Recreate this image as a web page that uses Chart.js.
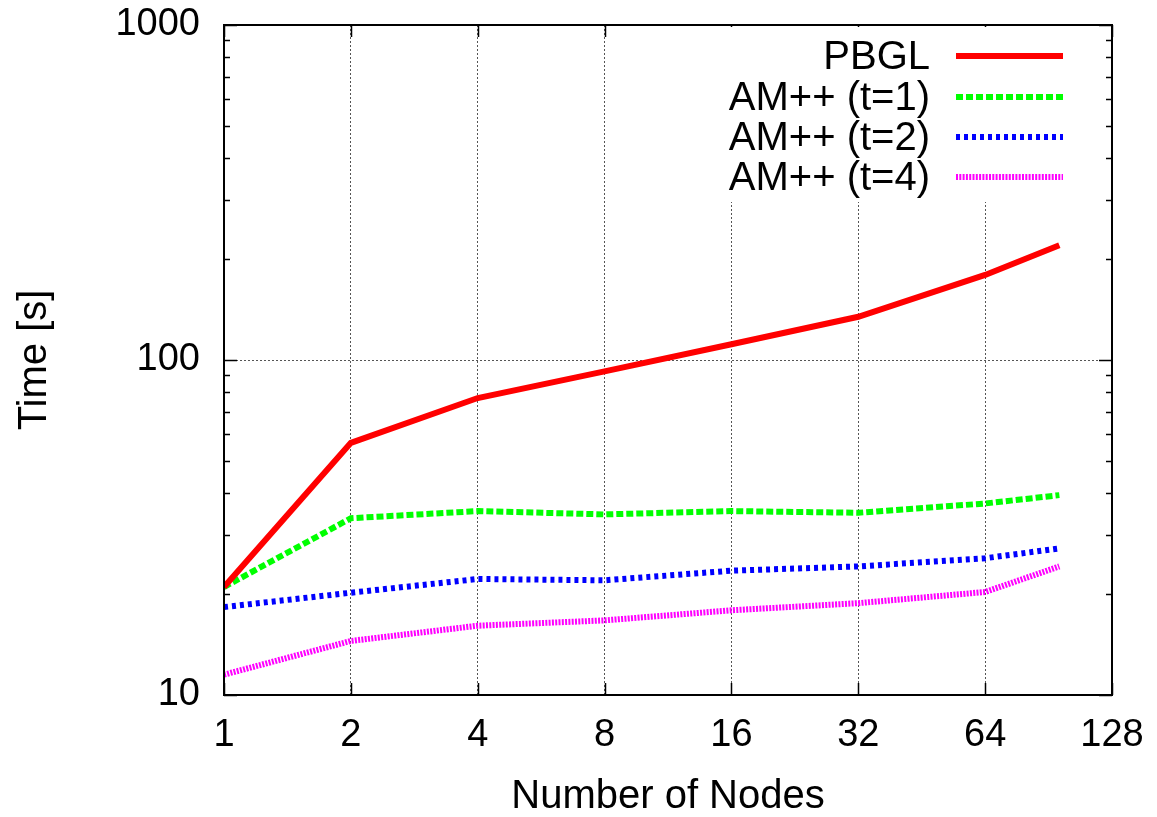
<!DOCTYPE html>
<html>
<head>
<meta charset="utf-8">
<script src="https://cdn.jsdelivr.net/npm/chart.js@4/dist/chart.umd.min.js"></script>
<style>
  html, body { margin: 0; padding: 0; background: #fff; }
  #wrap { width: 1157px; height: 817px; }
</style>
</head>
<body>
<div id="wrap"><canvas id="chart"></canvas></div>
<script>
// data
const nodes = [1, 2, 4, 8, 16, 32, 64, 96];
const pbgl = [21.0, 56.6, 77.0, 92.5, 111.4, 134.6, 179.4, 220];
const amT1 = [21.0, 33.7, 35.4, 34.6, 35.4, 35.0, 37.3, 39.5];
const amT2 = [18.3, 20.2, 22.2, 22.0, 23.5, 24.2, 25.6, 27.4];
const amT4 = [11.5, 14.5, 16.1, 16.7, 17.9, 18.8, 20.3, 24.2];

const xTicks = [1, 2, 4, 8, 16, 32, 64, 128];
const yTicks = [10, 20, 30, 40, 50, 60, 70, 80, 90, 100, 200, 300, 400, 500, 600, 700, 800, 900, 1000];
const yLabels = [10, 100, 1000];

const FONT = "'Liberation Sans', Arial, sans-serif";

function points(ys) {
    return nodes.map((x, i) => ({ x: x, y: ys[i] }));
}

// frame, inward ticks and the legend box, gnuplot style
const framePlugin = {
    id: "frame",
    afterDatasetsDraw(chart) {
        const ctx = chart.ctx;
        const a = chart.chartArea;
        const xs = chart.scales.x;
        const ys = chart.scales.y;
        ctx.save();
        ctx.strokeStyle = "#000";
        ctx.lineWidth = 1.5;
        ctx.setLineDash([]);
        ctx.beginPath();
        xTicks.forEach(v => {
            const px = Math.round(xs.getPixelForValue(v)) + 0.5;
            ctx.moveTo(px, a.bottom); ctx.lineTo(px, a.bottom - 12);
            ctx.moveTo(px, a.top); ctx.lineTo(px, a.top + 12);
        });
        yTicks.forEach(v => {
            const py = Math.round(ys.getPixelForValue(v)) + 0.5;
            const len = yLabels.includes(v) ? 13 : 6;
            ctx.moveTo(a.left, py); ctx.lineTo(a.left + len, py);
            ctx.moveTo(a.right, py); ctx.lineTo(a.right - len, py);
        });
        ctx.stroke();

        // legend
        ctx.fillStyle = "#fff";
        ctx.fillRect(720, a.top + 2, 355, 175);
        ctx.font = "40px " + FONT;
        ctx.textAlign = "right";
        ctx.textBaseline = "middle";
        const rowY = [56, 97, 137, 177];
        chart.data.datasets.forEach((ds, i) => {
            ctx.fillStyle = "#000";
            ctx.fillText(ds.label, 930, rowY[i] + 2);
            ctx.strokeStyle = ds.borderColor;
            ctx.lineWidth = ds.borderWidth;
            ctx.setLineDash(ds.borderDash || []);
            ctx.beginPath();
            ctx.moveTo(956, rowY[i]);
            ctx.lineTo(1063, rowY[i]);
            ctx.stroke();
        });
        ctx.setLineDash([]);

        ctx.strokeStyle = "#000";
        ctx.lineWidth = 2;
        ctx.strokeRect(a.left, a.top, a.right - a.left, a.bottom - a.top);
        ctx.restore();
    }
};

const ctx = document.getElementById("chart").getContext("2d");

new Chart(ctx, {
    type: "line",
    data: {
        datasets: [
            { label: "PBGL", data: points(pbgl), borderColor: "#ff0000", borderWidth: 6 },
            { label: "AM++ (t=1)", data: points(amT1), borderColor: "#00ff00", borderWidth: 6, borderDash: [7, 3] },
            { label: "AM++ (t=2)", data: points(amT2), borderColor: "#0000ff", borderWidth: 6, borderDash: [4, 4] },
            { label: "AM++ (t=4)", data: points(amT4), borderColor: "#ff00ff", borderWidth: 6, borderDash: [2, 1.3] }
        ]
    },
    options: {
        responsive: true,
        maintainAspectRatio: false,
        animation: false,
        layout: { padding: { top: 25, right: 45, left: 0, bottom: 0 } },
        elements: {
            point: { radius: 0 },
            line: { tension: 0, fill: false }
        },
        plugins: {
            legend: { display: false },
            tooltip: { enabled: false }
        },
        scales: {
            x: {
                type: "logarithmic",
                min: 1,
                max: 128,
                afterBuildTicks: s => { s.ticks = xTicks.map(v => ({ value: v })); },
                afterFit: s => { s.height = 122; s.paddingLeft = 0; s.paddingRight = 0; },
                ticks: {
                    autoSkip: false,
                    maxRotation: 0,
                    padding: 18,
                    color: "#000",
                    font: { family: FONT, size: 38 },
                    callback: v => String(v)
                },
                grid: {
                    drawTicks: false,
                    lineWidth: 1,
                    color: c => (c.tick && (c.tick.value === 1 || c.tick.value === 128)) ? "rgba(0,0,0,0)" : "#555"
                },
                border: { display: false, dash: [2, 2] },
                title: {
                    display: true,
                    text: "Number of Nodes",
                    color: "#000",
                    font: { family: FONT, size: 40, lineHeight: 1 },
                    padding: { top: 0, bottom: 0 }
                }
            },
            y: {
                type: "logarithmic",
                min: 10,
                max: 1000,
                afterBuildTicks: s => { s.ticks = yTicks.map(v => ({ value: v })); },
                afterFit: s => { s.width = 224; s.paddingTop = 0; s.paddingBottom = 0; },
                ticks: {
                    autoSkip: false,
                    padding: 24,
                    color: "#000",
                    font: { family: FONT, size: 38 },
                    callback: v => yLabels.includes(v) ? String(v) : ""
                },
                grid: {
                    drawTicks: false,
                    lineWidth: 1,
                    color: c => (c.tick && c.tick.value === 100) ? "#555" : "rgba(0,0,0,0)"
                },
                border: { display: false, dash: [2, 2] },
                title: {
                    display: true,
                    text: "Time [s]",
                    color: "#000",
                    font: { family: FONT, size: 40, lineHeight: 1 },
                    padding: { top: 15, bottom: 0 }
                }
            }
        }
    },
    plugins: [framePlugin]
});
</script>
</body>
</html>
